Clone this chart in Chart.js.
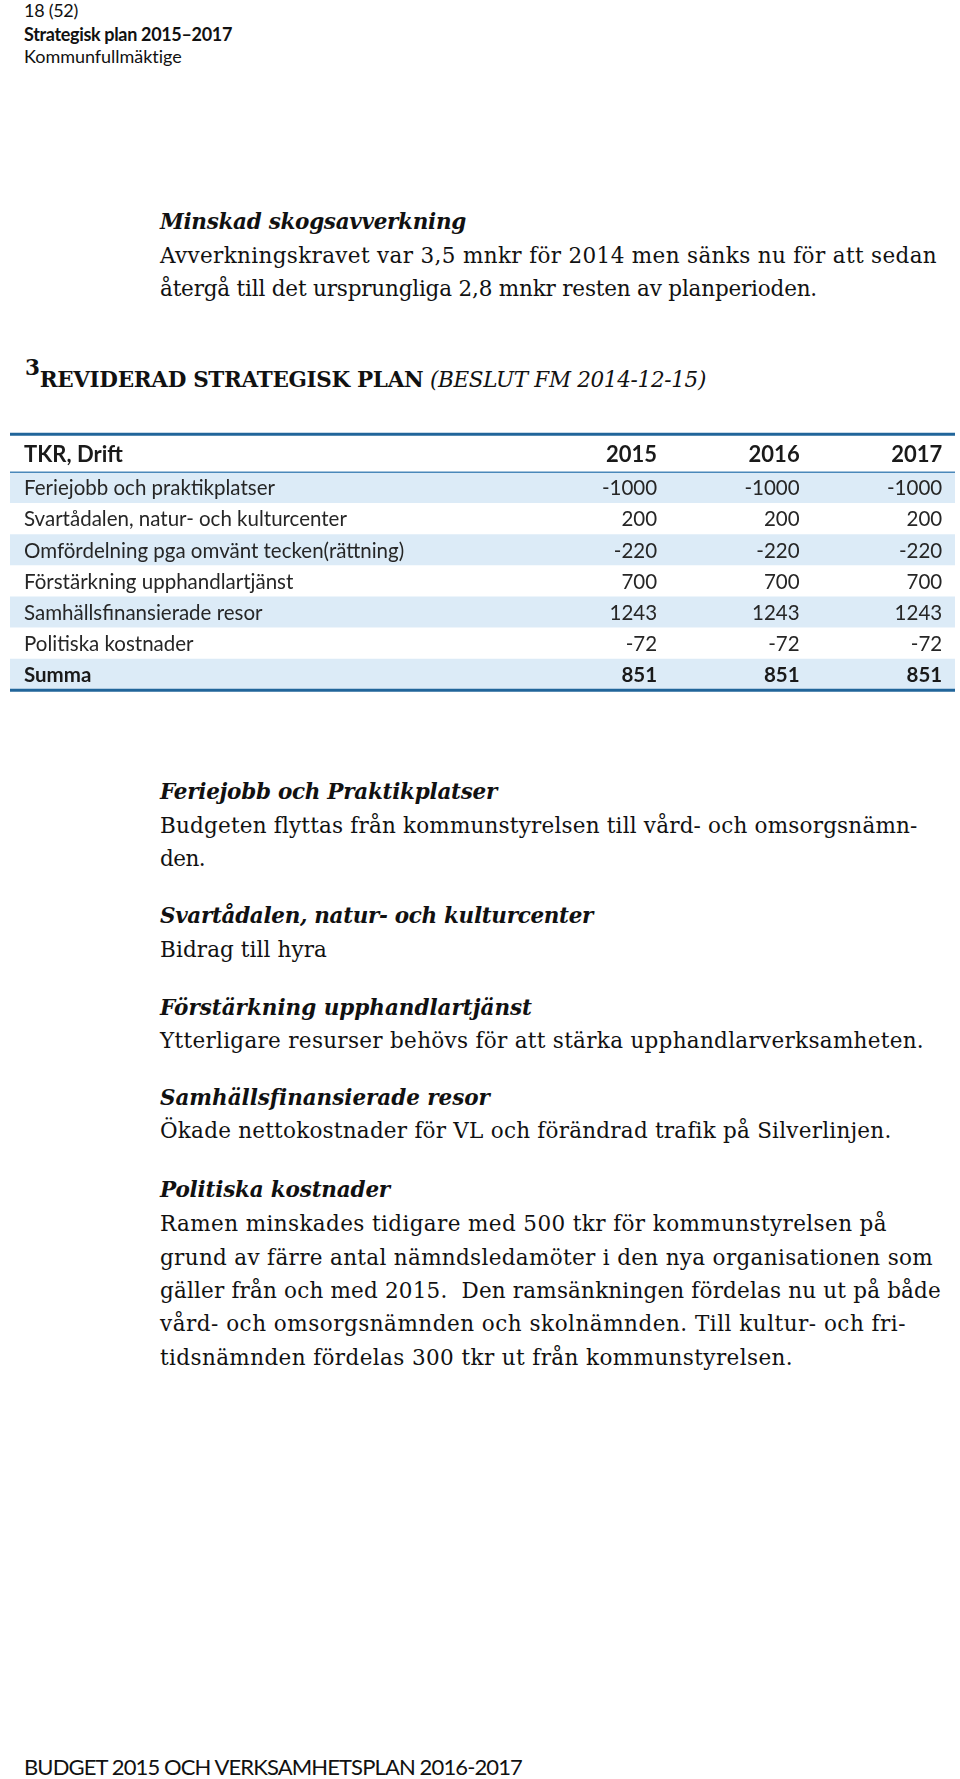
<!DOCTYPE html>
<html lang="sv">
<head>
<meta charset="utf-8">
<title>Reviderad strategisk plan</title>
<script src="https://cdn.jsdelivr.net/npm/chart.js@4.4.1/dist/chart.umd.min.js"></script>
<style>
html, body { margin: 0; padding: 0; background: #fff; }
body { width: 960px; height: 1779px; position: relative; overflow: hidden; color: #111; }
.ln { position: absolute; white-space: pre; line-height: 1.2; }
.sans { font-family: Lato, "Open Sans", sans-serif; }
.serif { font-family: "DejaVu Serif", "Liberation Serif", serif; font-size: 21.5px; }
.bi { font-weight: bold; font-style: italic; }
#tableBox { position: absolute; left: 0; top: 403px; width: 960px; height: 320px; }
</style>
</head>
<body>

<div class="ln sans" data-x="24" data-b="17" data-w="54" style="font-size:18px">18 (52)</div>
<div class="ln sans" data-x="24" data-b="41" data-w="208" style="font-size:18px;font-weight:bold">Strategisk plan 2015–2017</div>
<div class="ln sans" data-x="24" data-b="63" data-w="158" style="font-size:18px">Kommunfullmäktige</div>

<div class="ln serif bi" data-x="160" data-b="229" data-w="306">Minskad skogsavverkning</div>
<div class="ln serif" data-x="160" data-b="263" data-w="777">Avverkningskravet var 3,5 mnkr för 2014 men sänks nu för att sedan</div>
<div class="ln serif" data-x="160" data-b="296" data-w="657">återgå till det ursprungliga 2,8 mnkr resten av planperioden.</div>

<div class="ln serif" data-x="25" data-b="387" data-w="681"><b><span style="position:relative;top:-12px">3</span>REVIDERAD STRATEGISK PLAN</b> <i>(BESLUT FM 2014-12-15)</i></div>

<div id="tableBox"><canvas id="budget"></canvas></div>

<div class="ln serif bi" data-x="160" data-b="799" data-w="337">Feriejobb och Praktikplatser</div>
<div class="ln serif" data-x="160" data-b="833" data-w="757">Budgeten flyttas från kommunstyrelsen till vård- och omsorgsnämn-</div>
<div class="ln serif" data-x="160" data-b="866" data-w="45">den.</div>

<div class="ln serif bi" data-x="160" data-b="923" data-w="433">Svartådalen, natur- och kulturcenter</div>
<div class="ln serif" data-x="160" data-b="957" data-w="167">Bidrag till hyra</div>

<div class="ln serif bi" data-x="160" data-b="1015" data-w="372">Förstärkning upphandlartjänst</div>
<div class="ln serif" data-x="160" data-b="1048" data-w="764">Ytterligare resurser behövs för att stärka upphandlarverksamheten.</div>

<div class="ln serif bi" data-x="160" data-b="1105" data-w="328">Samhällsfinansierade resor</div>
<div class="ln serif" data-x="160" data-b="1138" data-w="731">Ökade nettokostnader för VL och förändrad trafik på Silverlinjen.</div>

<div class="ln serif bi" data-x="160" data-b="1197" data-w="230">Politiska kostnader</div>
<div class="ln serif" data-x="160" data-b="1231" data-w="727">Ramen minskades tidigare med 500 tkr för kommunstyrelsen på</div>
<div class="ln serif" data-x="160" data-b="1265" data-w="773">grund av färre antal nämndsledamöter i den nya organisationen som</div>
<div class="ln serif" data-x="160" data-b="1298" data-w="781">gäller från och med 2015.  Den ramsänkningen fördelas nu ut på både</div>
<div class="ln serif" data-x="160" data-b="1331" data-w="746">vård- och omsorgsnämnden och skolnämnden. Till kultur- och fri-</div>
<div class="ln serif" data-x="160" data-b="1365" data-w="633">tidsnämnden fördelas 300 tkr ut från kommunstyrelsen.</div>

<div class="ln sans" data-x="24" data-b="1775" data-w="498" style="font-size:22px">BUDGET 2015 OCH VERKSAMHETSPLAN 2016-2017</div>

<script>
// table values
const headerLabel = "TKR, Drift";
const years = ["2015", "2016", "2017"];
const rowLabels = [
    "Feriejobb och praktikplatser",
    "Svartådalen, natur- och kulturcenter",
    "Omfördelning pga omvänt tecken(rättning)",
    "Förstärkning upphandlartjänst",
    "Samhällsfinansierade resor",
    "Politiska kostnader",
    "Summa"
];
const values2015 = [-1000, 200, -220, 700, 1243, -72, 851];
const values2016 = [-1000, 200, -220, 700, 1243, -72, 851];
const values2017 = [-1000, 200, -220, 700, 1243, -72, 851];
const columns = [values2015, values2016, values2017];

// place the page text lines on their baselines and widths
function placeLines() {
    const bodyTop = document.body.getBoundingClientRect().top;
    document.querySelectorAll('.ln').forEach(el => {
        el.style.left = el.dataset.x + 'px';
        el.style.top = '0px';
        if (el.dataset.w) {
            const w = el.getBoundingClientRect().width;
            const n = el.textContent.length;
            el.style.letterSpacing = ((+el.dataset.w - w) / n).toFixed(3) + 'px';
        }
        const probe = document.createElement('span');
        probe.style.cssText = 'display:inline-block;width:0;height:0;';
        el.appendChild(probe);
        const base = probe.getBoundingClientRect().top - bodyTop;
        el.removeChild(probe);
        el.style.top = (+el.dataset.b - base) + 'px';
    });
}
placeLines();

//Table layout on the chart scales
const HEADER_TOP = -1.22;   // header row spans HEADER_TOP..0, body rows i..i+1
const X_MIN = -4.54;        // year columns end at x = 0, 1, 2
const X_MAX = 2.09;
const rowCenters = rowLabels.map((_, i) => i + 0.5);

const SANS = 'Lato, "Open Sans", sans-serif';
const DARK_LINE = '#21659a';
const THIN_LINE = '#4a88ba';
const STRIPE = '#dcebf7';

const tablePlugin = {
    id: 'tableText',
    afterDatasetsDraw(chart) {
        const { ctx, chartArea } = chart;
        const x = chart.scales.x;
        const y = chart.scales.y;
        ctx.save();

        function hline(v, w, c) {
            const py = y.getPixelForValue(v);
            ctx.strokeStyle = c;
            ctx.lineWidth = w;
            ctx.beginPath();
            ctx.moveTo(chartArea.left, py);
            ctx.lineTo(chartArea.right, py);
            ctx.stroke();
        }
        hline(HEADER_TOP, 3, DARK_LINE);
        hline(0, 1.5, THIN_LINE);
        hline(rowLabels.length, 3, DARK_LINE);

        function text(str, px, center, align, font, color) {
            ctx.font = font;
            ctx.fillStyle = color;
            ctx.textAlign = align;
            ctx.textBaseline = 'alphabetic';
            const cap = ctx.measureText('H').actualBoundingBoxAscent;
            ctx.fillText(str, px, y.getPixelForValue(center) + cap / 2);
        }

        const labelX = chartArea.left + 14;
        const headFont = 'bold 22px ' + SANS;
        text(headerLabel, labelX, HEADER_TOP / 2, 'left', headFont, '#1a1a1a');
        years.forEach((yr, j) => {
            text(yr, x.getPixelForValue(j), HEADER_TOP / 2, 'right', headFont, '#1a1a1a');
        });

        rowLabels.forEach((label, i) => {
            const last = i === rowLabels.length - 1;
            const font = (last ? 'bold ' : '') + '20.5px ' + SANS;
            const color = last ? '#1a1a1a' : '#262626';
            text(label, labelX, rowCenters[i], 'left', font, color);
            columns.forEach((vals, j) => {
                text(String(vals[i]), x.getPixelForValue(j), rowCenters[i], 'right', font, color);
            });
        });
        ctx.restore();
    }
};

const context = document.getElementById("budget").getContext("2d");
const table = new Chart(context, {
    type: 'bar',
    data: {
        datasets: [{
            data: rowCenters.map(c => ({ x: [X_MIN, X_MAX], y: c })),
            backgroundColor: rowLabels.map((_, i) => i % 2 === 0 ? STRIPE : '#ffffff'),
            borderWidth: 0,
            barPercentage: 1,
            categoryPercentage: 1
        }]
    },
    options: {
        indexAxis: 'y',
        responsive: true,
        maintainAspectRatio: false,
        animation: false,
        layout: { padding: { left: 10, right: 5, top: 10, bottom: 11.5 } },
        plugins: { legend: { display: false }, tooltip: { enabled: false } },
        scales: {
            x: { type: 'linear', min: X_MIN, max: X_MAX, display: false },
            y: {
                type: 'linear', reverse: true, min: HEADER_TOP, max: rowLabels.length, display: false,
                afterBuildTicks: s => { s.ticks = rowCenters.map(v => ({ value: v })); }
            }
        }
    },
    plugins: [tablePlugin]
});
</script>
</body>
</html>
